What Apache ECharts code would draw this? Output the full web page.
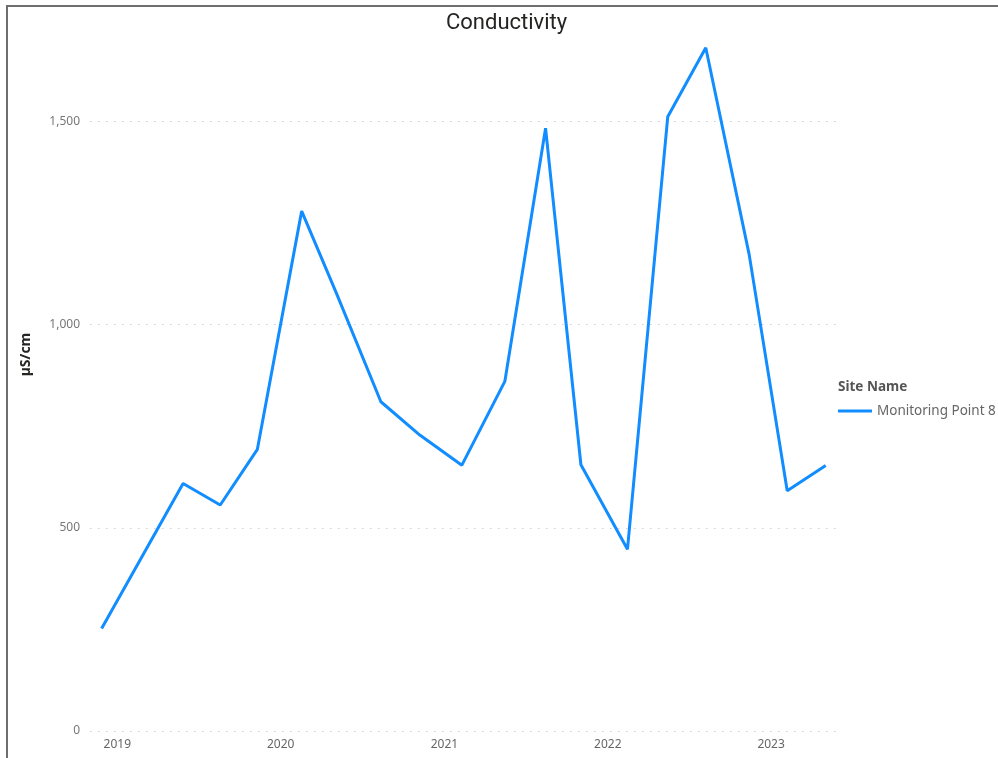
<!DOCTYPE html>
<html>
<head>
<meta charset="utf-8">
<script src="https://cdn.jsdelivr.net/npm/echarts@6/dist/echarts.min.js"></script>
<style>
  html, body { margin: 0; padding: 0; background: #fff; }
  #frame { position: absolute; left: 6px; top: 5px; right: 0; bottom: 0; border-left: 2px solid #6e6e6e; border-top: 2px solid #6e6e6e; }
  #chart { position: absolute; left: 0; top: 0; width: 998px; height: 758px; }
</style>
</head>
<body>
<div id="frame"></div>
<div id="chart"></div>
<script>
// sample dates and conductivity readings (µS/cm)
const sampleDates = [
  '2018-11-27', '2019-05-28', '2019-08-19', '2019-11-10',
  '2020-02-17', '2020-05-05', '2020-08-12', '2020-11-07',
  '2021-02-09', '2021-05-16', '2021-08-15', '2021-11-02',
  '2022-02-14', '2022-05-15', '2022-08-08', '2022-11-13',
  '2023-02-06', '2023-05-03'
];
const conductivity = [
  252, 609, 556, 693,
  1279, 1076, 810, 728,
  654, 860, 1483, 655,
  447, 1511, 1681, 1172,
  591, 653
];
const siteName = 'Monitoring Point 8';
const yTicks = [0, 500, 1000, 1500];

const font = "'Segoe UI', 'Noto Sans', sans-serif";
const chart = echarts.init(document.getElementById('chart'));
const YEAR = 365.25 * 24 * 3600 * 1000;

chart.setOption({
  animation: false,
  title: [
    {
      text: 'Conductivity',
      left: 441,
      top: 7,
      textStyle: { fontFamily: 'Roboto', fontWeight: 'normal', fontSize: 22, color: '#252423' }
    },
    {
      text: 'Site Name',
      left: 833,
      top: 375,
      textStyle: { fontFamily: font, fontWeight: 'bold', fontSize: 13.5, color: '#555' }
    }
  ],
  legend: {
    orient: 'vertical',
    left: 833,
    top: 399,
    itemWidth: 34,
    itemHeight: 3,
    textStyle: { fontFamily: font, fontSize: 13.5, color: '#666' },
    data: [{ name: siteName, icon: 'rect' }]
  },
  grid: { left: 90, right: 162, top: 40, bottom: 27 },
  xAxis: {
    type: 'time',
    min: '2018-11-01',
    max: '2023-05-26',
    minInterval: YEAR * 0.98,
    maxInterval: YEAR * 1.02,
    axisLine: { show: false },
    axisTick: { show: false },
    splitLine: { show: false },
    axisLabel: {
      showMinLabel: false,
      showMaxLabel: false,
      margin: 8,
      fontFamily: font,
      fontSize: 12,
      color: '#666',
      formatter: function (v) { return String(new Date(v).getFullYear()); }
    }
  },
  yAxis: {
    type: 'value',
    min: 0,
    max: 1700,
    interval: 500,
    name: 'µS/cm',
    nameLocation: 'middle',
    nameGap: 57,
    nameRotate: 90,
    nameTextStyle: { fontFamily: font, fontWeight: 'bold', fontSize: 14, color: '#252423', padding: [0, 0, 0, 62] },
    axisLine: { show: false },
    axisTick: { show: false },
    axisLabel: {
      showMaxLabel: false,
      margin: 10,
      fontFamily: font,
      fontSize: 12,
      color: '#777',
      formatter: function (v) { return yTicks.indexOf(v) >= 0 ? v.toLocaleString('en-US') : ''; }
    },
    splitLine: {
      lineStyle: {
        color: ['#cfcfcf', '#cfcfcf', '#cfcfcf', '#cfcfcf', 'rgba(0,0,0,0)'],
        type: [1.5, 6.5],
        width: 1
      }
    }
  },
  series: [
    {
      name: siteName,
      type: 'line',
      symbol: 'none',
      lineStyle: { color: '#118DFF', width: 3 },
      itemStyle: { color: '#118DFF' },
      data: sampleDates.map(function (d, i) { return [d, conductivity[i]]; })
    }
  ]
});
</script>
</body>
</html>
